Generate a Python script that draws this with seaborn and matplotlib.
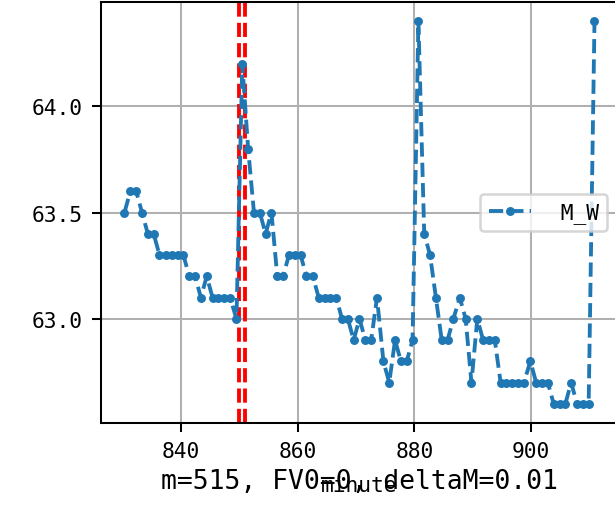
import matplotlib
matplotlib.use('Agg')
import matplotlib.pyplot as plt
import seaborn as sns

# minutes and M_W values
minutes = [830.3, 831.3, 832.3, 833.3, 834.3, 835.3, 836.3, 837.4, 838.4, 839.4,
           840.4, 841.4, 842.4, 843.4, 844.4, 845.4, 846.4, 847.4, 848.4, 849.5,
           850.5, 851.5, 852.5, 853.5, 854.5, 855.5, 856.5, 857.5, 858.5, 859.5,
           860.5, 861.5, 862.6, 863.6, 864.6, 865.6, 866.6, 867.6, 868.6, 869.6,
           870.6, 871.6, 872.6, 873.6, 874.7, 875.7, 876.7, 877.7, 878.7, 879.7,
           880.7, 881.7, 882.7, 883.7, 884.7, 885.7, 886.7, 887.8, 888.8, 889.8,
           890.8, 891.8, 892.8, 893.8, 894.8, 895.8, 896.8, 897.8, 898.8, 899.9,
           900.9, 901.9, 902.9, 903.9, 904.9, 905.9, 906.9, 907.9, 908.9, 909.9,
           910.9]
m_w = [63.5, 63.6, 63.6, 63.5, 63.4, 63.4, 63.3, 63.3, 63.3, 63.3,
       63.3, 63.2, 63.2, 63.1, 63.2, 63.1, 63.1, 63.1, 63.1, 63.0,
       64.2, 63.8, 63.5, 63.5, 63.4, 63.5, 63.2, 63.2, 63.3, 63.3,
       63.3, 63.2, 63.2, 63.1, 63.1, 63.1, 63.1, 63.0, 63.0, 62.9,
       63.0, 62.9, 62.9, 63.1, 62.8, 62.7, 62.9, 62.8, 62.8, 62.9,
       64.4, 63.4, 63.3, 63.1, 62.9, 62.9, 63.0, 63.1, 63.0, 62.7,
       63.0, 62.9, 62.9, 62.9, 62.7, 62.7, 62.7, 62.7, 62.7, 62.8,
       62.7, 62.7, 62.7, 62.6, 62.6, 62.6, 62.7, 62.6, 62.6, 62.6,
       64.4]

marked_minutes = [850, 851]
xticks = [840, 860, 880, 900]
yticks = [63.0, 63.5, 64.0]
title = 'm=515, FV0=0, deltaM=0.01'

plt.rcParams['font.family'] = ['DejaVu Sans Mono']
plt.rcParams['font.size'] = 8.3

fig = plt.figure(figsize=(615 / 184, 508 / 184), dpi=184)
ax = fig.add_axes([101 / 615, 84 / 508, 517 / 615, 421 / 508])

# red dashed marks
for xm in marked_minutes:
    ax.axvline(xm, color='red', linestyle='--')

sns.lineplot(x=minutes, y=m_w, ax=ax, marker='.', linestyle='--',
             markersize=7, markeredgewidth=0, label=' M_W')

ax.set_xticks(xticks)
ax.set_yticks(yticks)
ax.grid(True)
ax.legend(loc='center right')

ax.set_xlabel('minute')
ax.xaxis.label.set_va('baseline')
ax.xaxis.set_label_coords(0.5, -0.1615)
ax.set_title(title, fontsize=10.3, y=-0.154, pad=0)

fig.savefig('out.png', dpi=184)
